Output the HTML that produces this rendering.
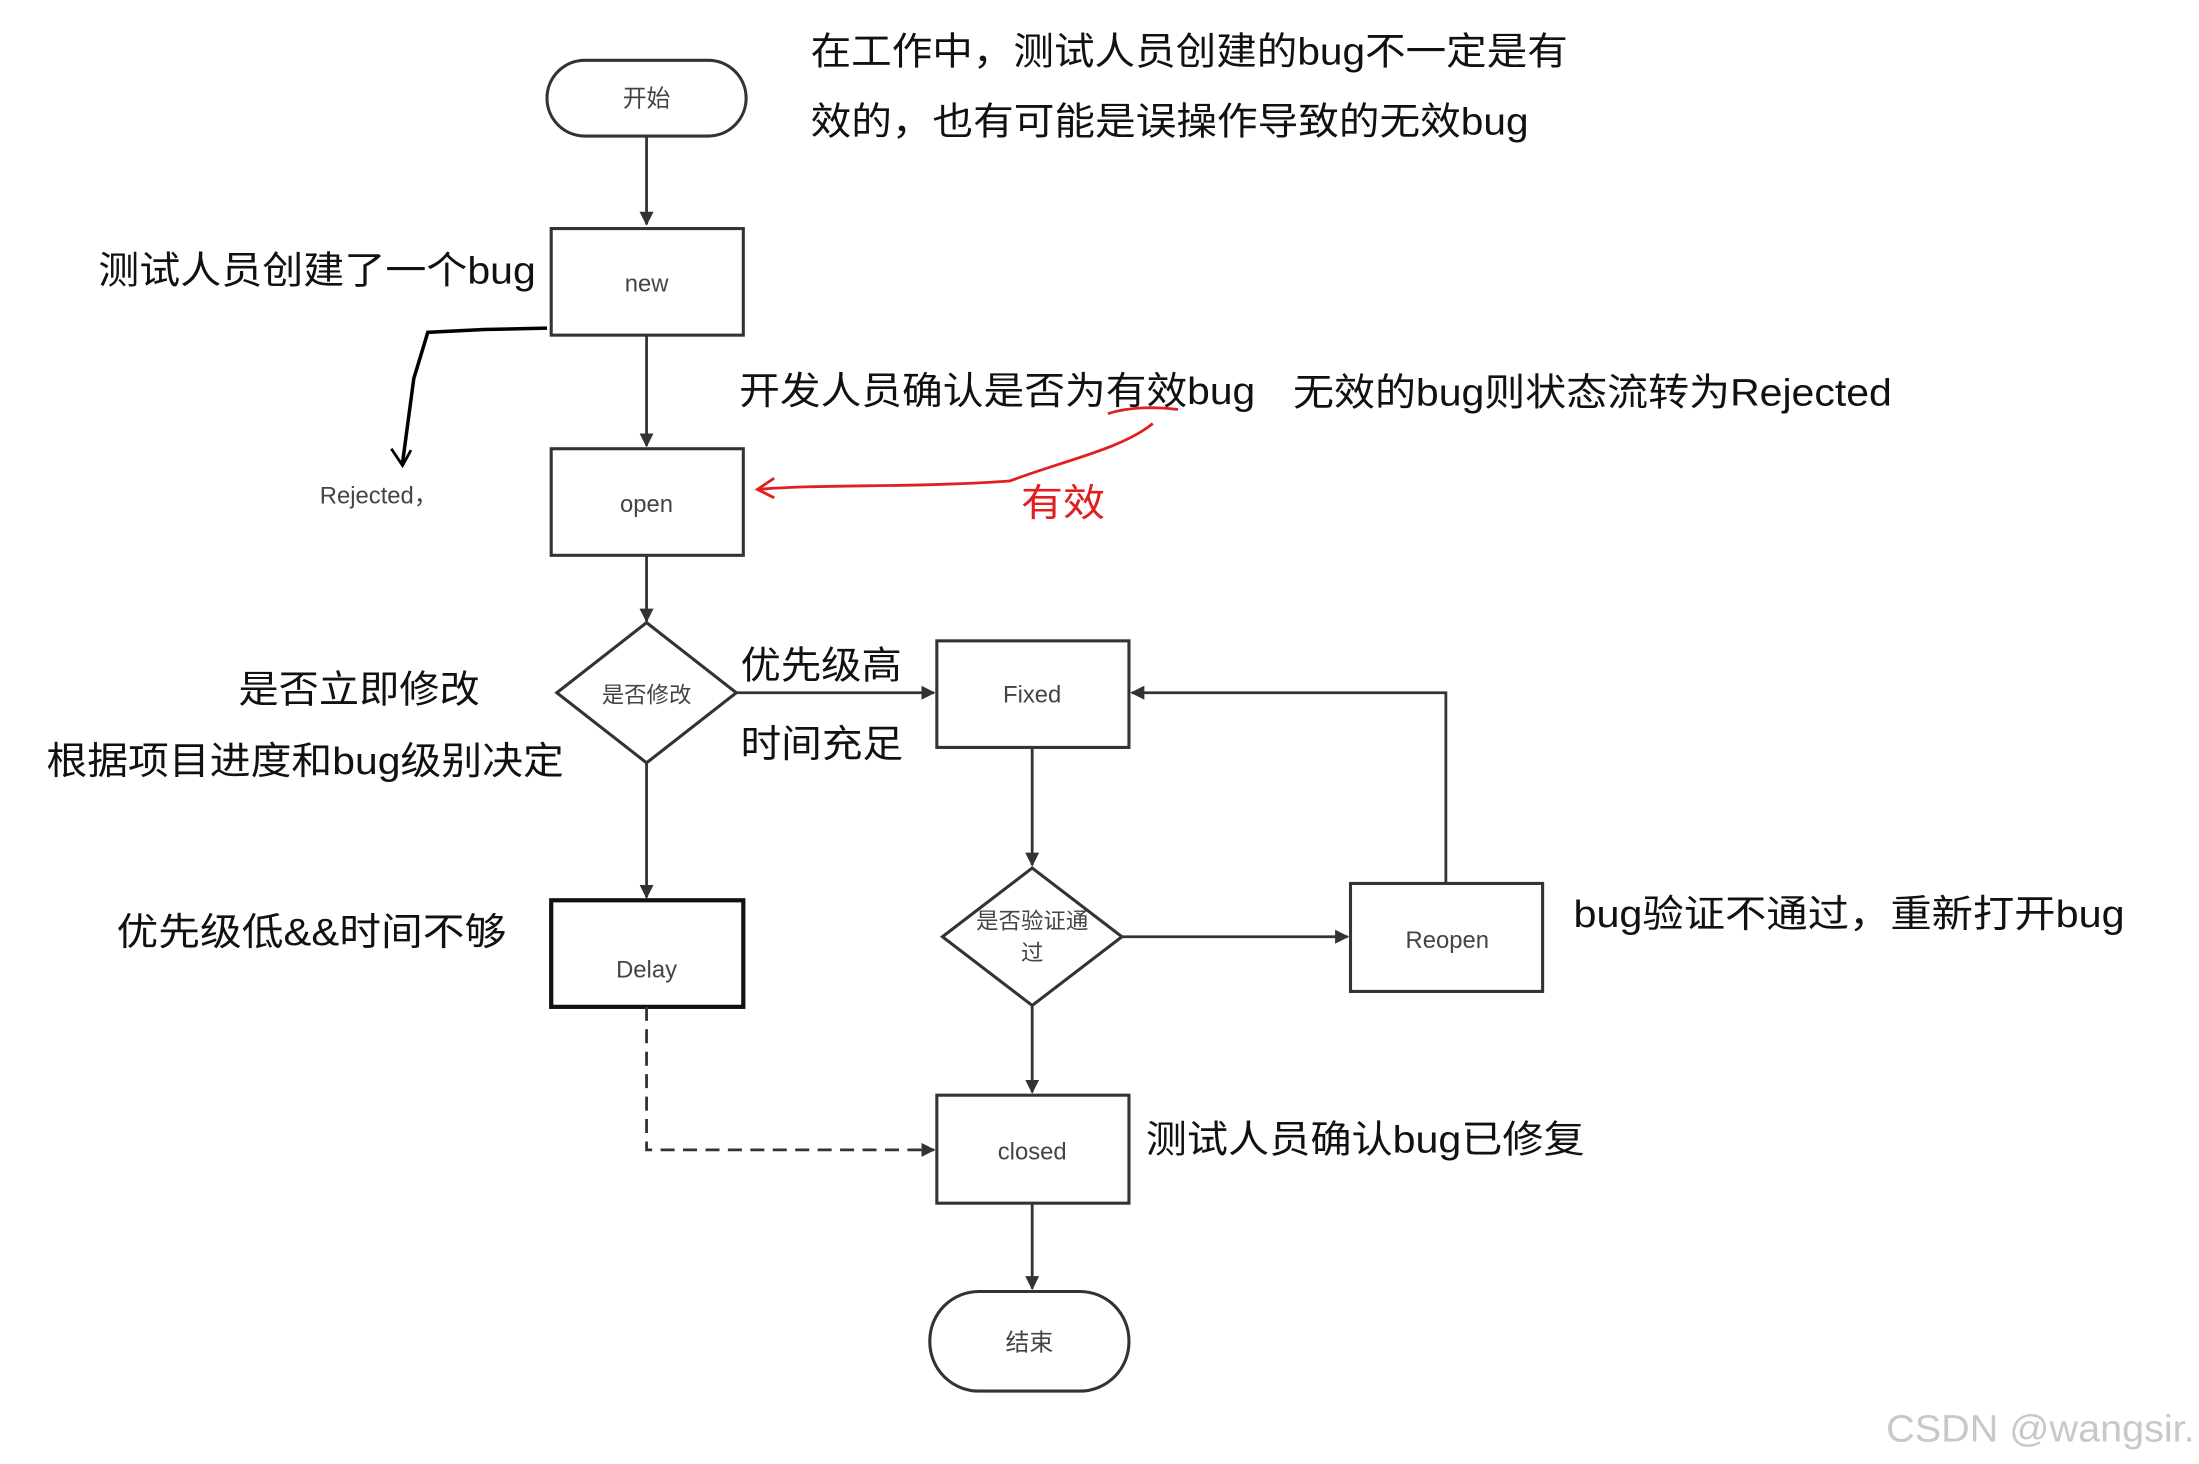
<!DOCTYPE html>
<html><head><meta charset="utf-8"><style>
html,body{margin:0;padding:0;background:#fff;}
svg{display:block;}
text{font-family:"Liberation Sans","Noto Sans CJK SC",sans-serif;}
</style></head><body>
<svg width="2199" height="1464" viewBox="0 0 1568 1044" xmlns="http://www.w3.org/2000/svg">
<defs>
<marker id="a" markerWidth="10" markerHeight="10" refX="9" refY="5" orient="auto" markerUnits="userSpaceOnUse"><path d="M0,0 L10,5 L0,10 z" fill="#333"/></marker>
</defs>
<rect width="1568" height="1044" fill="#fff"/>
<g stroke="#333" stroke-width="2.2" fill="none">
<rect x="390" y="43" width="142" height="54" rx="27"/>
<rect x="393" y="163" width="137" height="76"/>
<rect x="393" y="320" width="137" height="76"/>
<polygon points="397,494 461,444 525,494 461,544"/>
<rect x="668" y="457" width="137" height="76"/>
<rect x="393" y="642" width="137" height="76" stroke-width="3" stroke="#111"/>
<polygon points="672,668 736,619 800,668 736,717"/>
<rect x="963" y="630" width="137" height="77"/>
<rect x="668" y="781" width="137" height="77"/>
<rect x="663" y="921" width="142" height="71" rx="35"/>
<g stroke-width="2">
<line x1="461" y1="97" x2="461" y2="160" marker-end="url(#a)"/>
<line x1="461" y1="239" x2="461" y2="318" marker-end="url(#a)"/>
<line x1="461" y1="396" x2="461" y2="443" marker-end="url(#a)"/>
<line x1="525" y1="494" x2="666" y2="494" marker-end="url(#a)"/>
<line x1="461" y1="544" x2="461" y2="640" marker-end="url(#a)"/>
<line x1="736" y1="533" x2="736" y2="617" marker-end="url(#a)"/>
<line x1="800" y1="668" x2="961" y2="668" marker-end="url(#a)"/>
<polyline points="1031,630 1031,494 807,494" marker-end="url(#a)"/>
<line x1="736" y1="717" x2="736" y2="779" marker-end="url(#a)"/>
<polyline points="461,718 461,820 666,820" stroke-dasharray="10,6" marker-end="url(#a)"/>
<line x1="736" y1="858" x2="736" y2="919" marker-end="url(#a)"/>
</g>
</g>
<path d="M390,234 L345,235 L305,237 L295,270 L287,330" stroke="#000" stroke-width="2.5" fill="none"/>
<path d="M279,320 L287,332 L293,321" stroke="#000" stroke-width="2" fill="none"/>
<path d="M822,302 C800,320 760,328 720,343 C650,348 590,345 540,349" stroke="#e02020" stroke-width="2" fill="none"/>
<path d="M552,341 L540,349 L552,355" stroke="#e02020" stroke-width="2" fill="none"/>
<path d="M790,295 C805,290 825,290 840,292" stroke="#e02020" stroke-width="2" fill="none"/>
<g font-size="17" fill="#444" text-anchor="middle">
<text x="461" y="76">开始</text>
<text x="461" y="208">new</text>
<text x="461" y="365">open</text>
<text x="461" y="501" font-size="16">是否修改</text>
<text x="736" y="501">Fixed</text>
<text x="461" y="697">Delay</text>
<text x="736" y="662" font-size="16">是否验证通</text>
<text x="736" y="685" font-size="16">过</text>
<text x="1032" y="676">Reopen</text>
<text x="736" y="827">closed</text>
<text x="734" y="963">结束</text>
<text x="270" y="359" font-size="17">Rejected，</text>
</g>
<g font-size="27" fill="#111" lengthAdjust="spacingAndGlyphs">
<text x="578" y="46" textLength="540" lengthAdjust="spacingAndGlyphs">在工作中，测试人员创建的bug不一定是有</text>
<text x="578" y="96" textLength="512" lengthAdjust="spacingAndGlyphs">效的，也有可能是误操作导致的无效bug</text>
<text x="70" y="202" textLength="312" lengthAdjust="spacingAndGlyphs">测试人员创建了一个bug</text>
<text x="527" y="288" textLength="368" lengthAdjust="spacingAndGlyphs">开发人员确认是否为有效bug</text>
<text x="922" y="289" textLength="427" lengthAdjust="spacingAndGlyphs">无效的bug则状态流转为Rejected</text>
<text x="170" y="501" textLength="172" lengthAdjust="spacingAndGlyphs">是否立即修改</text>
<text x="33" y="552" textLength="369" lengthAdjust="spacingAndGlyphs">根据项目进度和bug级别决定</text>
<text x="528" y="484" textLength="115" lengthAdjust="spacingAndGlyphs">优先级高</text>
<text x="528" y="540" textLength="116" lengthAdjust="spacingAndGlyphs">时间充足</text>
<text x="83" y="674" textLength="278" lengthAdjust="spacingAndGlyphs">优先级低&amp;&amp;时间不够</text>
<text x="1122" y="661" textLength="393" lengthAdjust="spacingAndGlyphs">bug验证不通过，重新打开bug</text>
<text x="817" y="822" textLength="313" lengthAdjust="spacingAndGlyphs">测试人员确认bug已修复</text>
<text x="728" y="368" fill="#e02020" textLength="60" lengthAdjust="spacingAndGlyphs">有效</text>
</g>
<text x="1345" y="1028" font-size="27" fill="#c8c8c8" textLength="220" lengthAdjust="spacingAndGlyphs">CSDN @wangsir.</text>
</svg>
</body></html>
